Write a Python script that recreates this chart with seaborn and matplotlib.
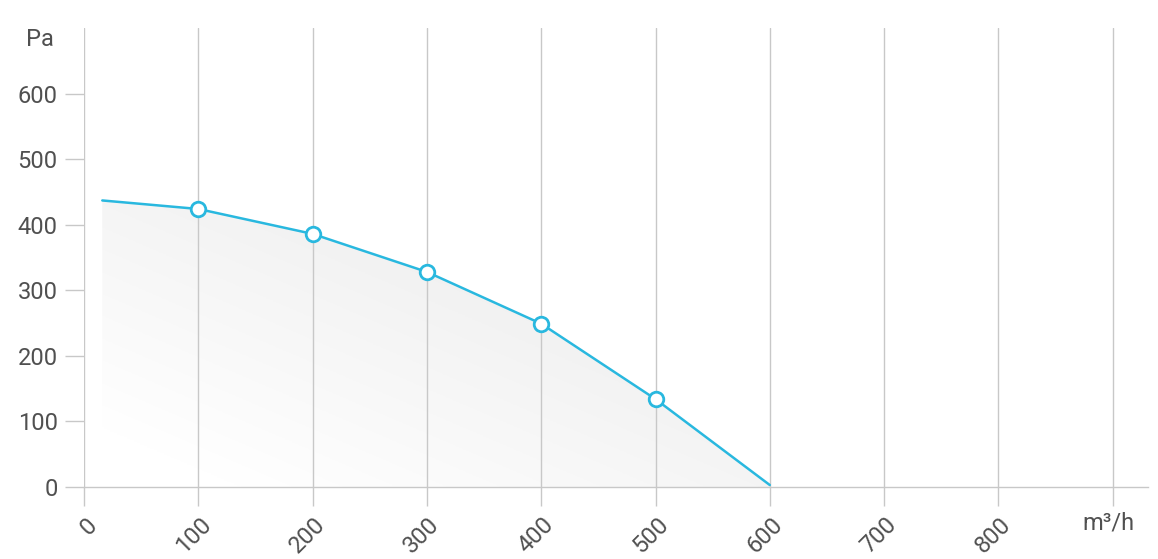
import numpy as np
import matplotlib
matplotlib.use('Agg')
import matplotlib.pyplot as plt
import seaborn as sns
import pandas as pd
from matplotlib.patches import Polygon

# curve data
flow = [16, 100, 200, 300, 400, 500, 600]
pressure = [437, 424, 386, 328, 249, 134, 3]
marker_flow = [100, 200, 300, 400, 500]
marker_pressure = [424, 386, 328, 249, 134]
x_ticks = [0, 100, 200, 300, 400, 500, 600, 700, 800, 900]
y_ticks = [0, 100, 200, 300, 400, 500, 600]

sns.set_theme(style='white')
plt.rcParams['font.family'] = ['Roboto', 'DejaVu Sans']
text_col = '#505050'
grid_col = '#c8c8c8'
line_col = '#29b8df'
fs = 17

df = pd.DataFrame({'flow': flow, 'pressure': pressure})
dm = pd.DataFrame({'flow': marker_flow, 'pressure': marker_pressure})

fig = plt.figure(figsize=(11.58, 5.59), dpi=100)
ax = fig.add_axes([84/1158, 72/559, (1148-84)/1158, (487-28)/559])
ax.set_xlim(0, (1148-84)/1.143)
ax.set_ylim(0, 700)

# gradient fill under curve
poly = Polygon(list(zip(flow, pressure)) + [(flow[-1], 0), (flow[0], 0)],
               closed=True, facecolor='none', edgecolor='none')
ax.add_patch(poly)
gx, gy = np.meshgrid(np.linspace(0, 1, 200), np.linspace(0, 1, 200))
grad = 0.5 * gx + 0.5 * gy
im = ax.imshow(grad, extent=[flow[0], flow[-1], 0, max(pressure)], origin='lower',
               cmap=matplotlib.colors.LinearSegmentedColormap.from_list('g', ['#ffffff', '#e8e8e8']),
               aspect='auto', zorder=1, vmin=0.1, vmax=1.0)
im.set_clip_path(poly)

for xv in x_ticks:
    ax.axvline(xv, color=grid_col, lw=1, zorder=2)

sns.lineplot(data=df, x='flow', y='pressure', ax=ax, color=line_col, lw=1.8, zorder=3)
sns.scatterplot(data=dm, x='flow', y='pressure', ax=ax, s=110, color='white',
                edgecolor=line_col, linewidth=2, zorder=4)

for s in ['top', 'right', 'left']:
    ax.spines[s].set_visible(False)
ax.spines['bottom'].set_color(grid_col)
ax.spines['bottom'].set_linewidth(1)

ax.set_yticks(y_ticks)
ax.set_yticklabels([str(v) for v in y_ticks], color=text_col, fontsize=fs)
ax.set_xticks(x_ticks)
ax.set_xticklabels([str(v) for v in x_ticks[:-1]] + [''], color=text_col, fontsize=fs,
                   rotation=45, ha='right', va='top', rotation_mode='anchor')
ax.tick_params(axis='both', bottom=True, left=True, length=14, width=1, color=grid_col, pad=5)
for lab in ax.get_xticklabels():
    lab.set_transform(lab.get_transform() + matplotlib.transforms.ScaledTranslation(0.01, 0.0, fig.dpi_scale_trans))
ax.set_xlabel('')
ax.set_ylabel('')

ax.text(-0.028, 683, 'Pa', transform=ax.get_yaxis_transform(), ha='right', va='center',
        color=text_col, fontsize=fs)
ax.text(896, -55, 'm³/h', ha='center', va='center', color=text_col, fontsize=fs,
        clip_on=False)

fig.savefig('out.png', dpi=100, facecolor='white')
